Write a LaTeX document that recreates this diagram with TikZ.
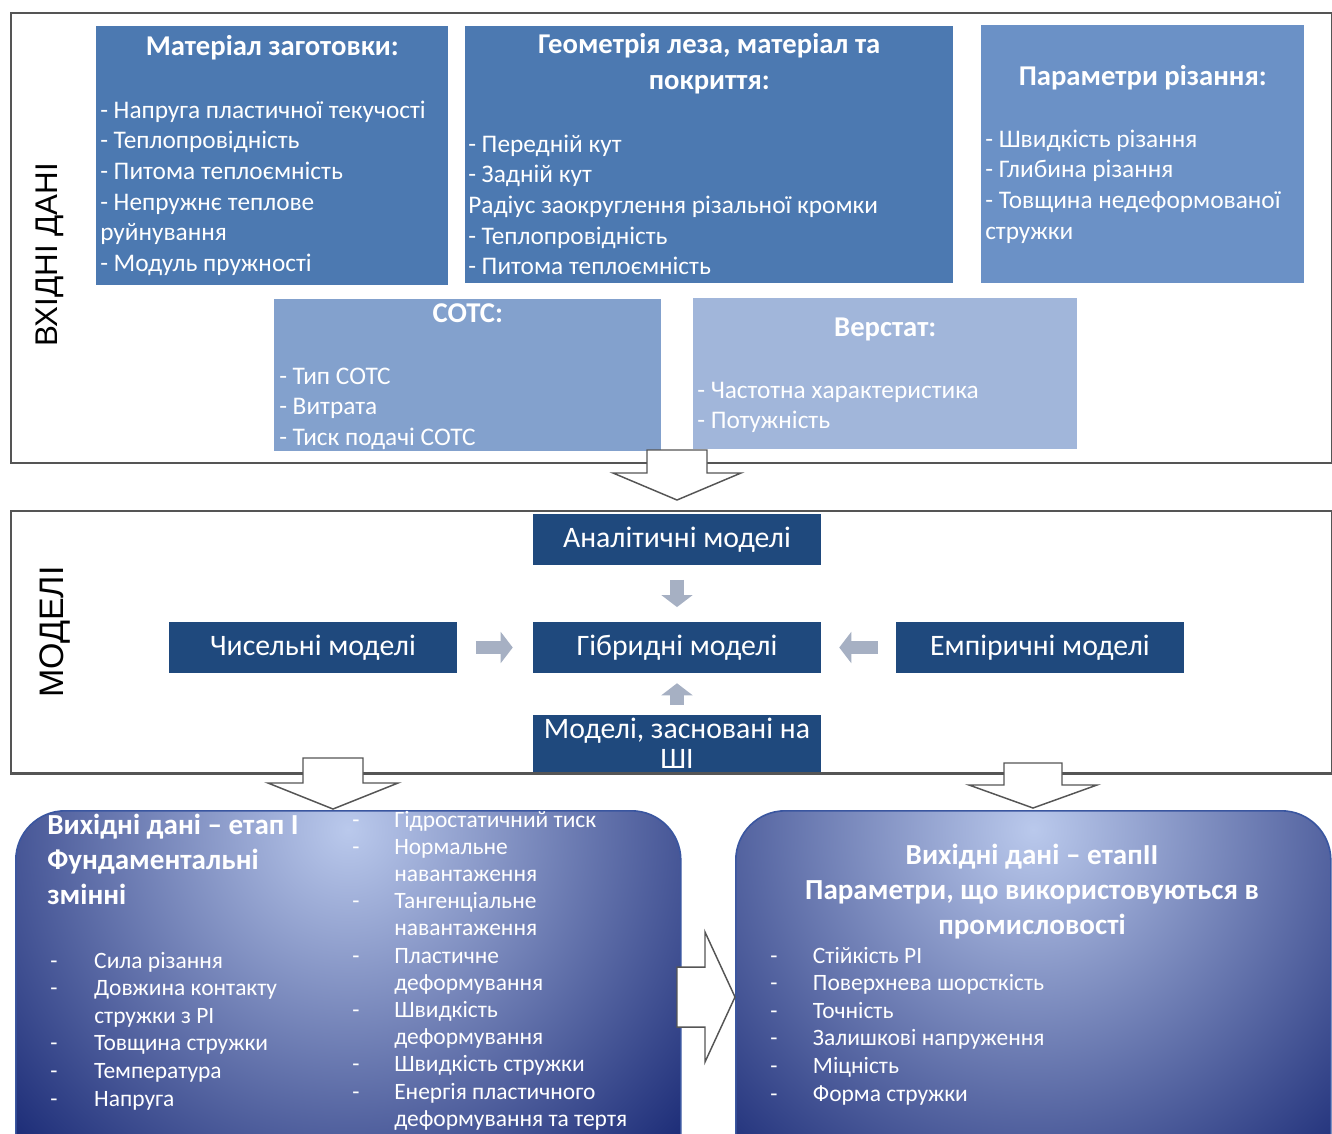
\documentclass[tikz,border=0pt]{standalone}
\usepackage{fontspec}
\setmainfont{Carlito}
\newfontfamily\labelfont{Liberation Sans}
\usetikzlibrary{arrows.meta,calc}

\definecolor{inblueA}{RGB}{76,121,177}
\definecolor{inblueB}{RGB}{107,145,198}
\definecolor{inblueC}{RGB}{131,161,205}
\definecolor{inblueD}{RGB}{161,182,218}
\definecolor{modnavy}{RGB}{31,73,125}
\definecolor{flowgray}{RGB}{166,176,195}
\definecolor{outdark}{RGB}{24,40,116}
\definecolor{outlight}{RGB}{186,201,236}
\definecolor{outedge}{RGB}{58,86,160}
\definecolor{framegray}{RGB}{85,85,85}

% lists: first row is the baseline of the node
\newcommand\inlist[1]{\begin{tabular}[t]{@{}l@{}}#1\end{tabular}}
\newcommand\dashlist[2]{\begin{tabular}[t]{@{}p{#1}@{}l@{}}#2\end{tabular}}

\tikzset{
  boxsize/.style 2 args={minimum width=#1*0.75pt, minimum height=#2*0.75pt},
  frame/.style={rectangle, anchor=north west, draw=framegray, line width=1.5pt},
  sidelabel/.style={font=\labelfont\fontsize{23.5}{26}\selectfont, rotate=90},
  inbox/.style={rectangle, anchor=north west, inner sep=0pt},
  inhead/.style={anchor=base, inner sep=0pt, text=white, align=center,
    font=\bfseries\fontsize{21.5}{27}\selectfont},
  initems/.style={anchor=base west, inner sep=0pt, text=white,
    font=\fontsize{19}{23}\selectfont},
  modbox/.style={rectangle, fill=modnavy, text=white, inner sep=0pt,
    align=center, boxsize={288}{51}, font=\fontsize{22.3}{22.5}\selectfont},
  flow/.style={draw=flowgray, line width=10pt,
    -{Triangle[width=23pt,length=9pt]}},
  hollow/.style={draw=framegray, fill=white, line width=1.1pt, line join=miter},
  outbox/.style={rectangle, anchor=north west, rounded corners=37pt,
    fill=outdark, draw=outedge, line width=1.2pt,
    path picture={\shade[inner color=outlight, outer color=outdark]
      ($(path picture bounding box.north)+(0,-14pt)$) circle (350pt);}},
  outhead/.style={inner sep=0pt, text=white,
    font=\bfseries\fontsize{21.8}{26.25}\selectfont},
  outitems/.style={anchor=base west, inner sep=0pt, text=white,
    font=\fontsize{17.6}{20.7}\selectfont}
}

\begin{document}
\begin{tikzpicture}[x=0.75pt,y=-0.75pt]
\clip (0,0) rectangle (1332,1133);
\fill[white] (0,0) rectangle (1332,1133);

% ---- input data ----
\node[frame, boxsize={1321}{450}] (inframe) at (10,12) {};
\node[sidelabel] (inlabel) at (50,255) {ВХІДНІ ДАНІ};

\node[inbox, fill=inblueA, boxsize={352}{259}] (mat) at (96,26) {};
\node[inhead] (mathead) at ($(mat.north)+(0,29)$) {Матеріал заготовки:};
\node[initems] (matlist) at ($(mat.north west)+(4,92)$) {\inlist{%
  - Напруга пластичної текучості\\
  - Теплопровідність\\
  - Питома теплоємність\\
  - Непружнє теплове\\
  руйнування\\
  - Модуль пружності}};

\node[inbox, fill=inblueA, boxsize={488}{257}] (geo) at (465,26) {};
\node[inhead] (geohead) at ($(geo.north)+(0,27)$)
  {\begin{tabular}[t]{@{}c@{}}Геометрія леза, матеріал та\\покриття:\end{tabular}};
\node[initems] (geolist) at ($(geo.north west)+(3,126)$) {\inlist{%
  - Передній кут\\
  - Задній кут\\
  Радіус заокруглення різальної кромки\\
  - Теплопровідність\\
  - Питома теплоємність}};

\node[inbox, fill=inblueB, boxsize={323}{258}] (cut) at (981,25) {};
\node[inhead] (cuthead) at ($(cut.north)+(0,60)$) {Параметри різання:};
\node[initems] (cutlist) at ($(cut.north west)+(4,122)$) {\inlist{%
  - Швидкість різання\\
  - Глибина різання\\
  - Товщина недеформованої\\
  стружки}};

\node[inbox, fill=inblueC, boxsize={387}{152}] (cool) at (274,299) {};
\node[inhead] (coolhead) at ($(cool.north)+(0,23)$) {СОТС:};
\node[initems] (coollist) at ($(cool.north west)+(5,85)$) {\inlist{%
  - Тип СОТС\\
  - Витрата\\
  - Тиск подачі СОТС}};

\node[inbox, fill=inblueD, boxsize={384}{151}] (tool) at (693,298) {};
\node[inhead] (toolhead) at ($(tool.north)+(0,38)$) {Верстат:};
\node[initems] (toollist) at ($(tool.north west)+(4,100)$) {\inlist{%
  - Частотна характеристика\\
  - Потужність}};

% ---- models ----
\node[frame, boxsize={1321}{262}] (modframe) at (10,510) {};
\node[sidelabel, font=\labelfont\fontsize{25.5}{28}\selectfont] (modlabel) at (55,632) {МОДЕЛІ};

\node[modbox] (anal) at (677,539.5) {Аналітичні моделі};
\node[modbox] (hyb) at (677,647.5) {Гібридні моделі};
\node[modbox] (num) at (313,647.5) {Чисельні моделі};
\node[modbox] (emp) at (1040,647.5) {Емпіричні моделі};
\node[modbox, boxsize={288}{57}] (ai) at (677,743.5) {Моделі, засновані на\\ШІ};
\draw[frame] (modframe.south west) -- (modframe.south east);

\draw[flow, shorten <=11pt, shorten >=11pt] (anal) -- (hyb);
\draw[flow, shorten <=14pt, shorten >=15pt] (num) -- (hyb);
\draw[flow, shorten <=13.5pt, shorten >=13.5pt] (emp) -- (hyb);
\draw[flow, shorten <=7.5pt, shorten >=7.5pt] (ai) -- (hyb);

% ---- output data ----
\node[outbox, boxsize={665}{380}] (stage1) at (15,810) {};
\node[outhead, anchor=base west] (stage1head) at (47,834)
  {\inlist{Вихідні дані – етап І\\Фундаментальні\\змінні}};
\node[outitems] (stage1left) at (50,968) {\dashlist{33pt}{%
  - & Сила різання\\
  - & Довжина контакту\\
    & стружки з РІ\\
  - & Товщина стружки\\
  - & Температура\\
  - & Напруга}};
\node[outitems, font=\fontsize{17.6}{20.4}\selectfont] (stage1right) at (352,827)
  {\dashlist{31.5pt}{%
  - & Гідростатичний тиск\\
  - & Нормальне\\
    & навантаження\\
  - & Тангенціальне\\
    & навантаження\\
  - & Пластичне\\
    & деформування\\
  - & Швидкість\\
    & деформування\\
  - & Швидкість стружки\\
  - & Енергія пластичного\\
    & деформування та тертя}};

\node[outbox, boxsize={595}{380}] (stage2) at (735,810) {};
\node[outhead, anchor=base] (stage2head) at (1032,864)
  {\begin{tabular}[t]{@{}c@{}}Вихідні дані – етапІІ\\
   Параметри, що використовуються в\\промисловості\end{tabular}};
\node[outitems] (stage2list) at (770,963) {\dashlist{32pt}{%
  - & Стійкість РІ\\
  - & Поверхнева шорсткість\\
  - & Точність\\
  - & Залишкові напруження\\
  - & Міцність\\
  - & Форма стружки}};

% ---- hollow arrows between the stages ----
\coordinate (in2mod) at (677,450);
\draw[hollow] ($(in2mod)+(-30,0)$) -- ++(0,23) -- ++(-34,0)
  -- ($(in2mod)+(0,50)$) -- ++(64,-27) -- ++(-34,0) -- ++(0,-23) -- cycle;
\coordinate (mod2one) at (333,758);
\draw[hollow] ($(mod2one)+(-30,0)$) -- ++(0,25) -- ++(-35,0)
  -- ($(mod2one)+(0,51)$) -- ++(65,-26) -- ++(-35,0) -- ++(0,-25) -- cycle;
\coordinate (mod2two) at (1033,763);
\draw[hollow] ($(mod2two)+(-29,0)$) -- ++(0,22) -- ++(-35,0)
  -- ($(mod2two)+(0,45)$) -- ++(64,-23) -- ++(-35,0) -- ++(0,-22) -- cycle;
\coordinate (one2two) at (677,997);
\draw[hollow] ($(one2two)+(0,-30)$) -- ++(28,0) -- ++(0,-35)
  -- ($(one2two)+(58,0)$) -- ++(-30,65) -- ++(0,-35) -- ++(-28,0) -- cycle;
\end{tikzpicture}
\end{document}
